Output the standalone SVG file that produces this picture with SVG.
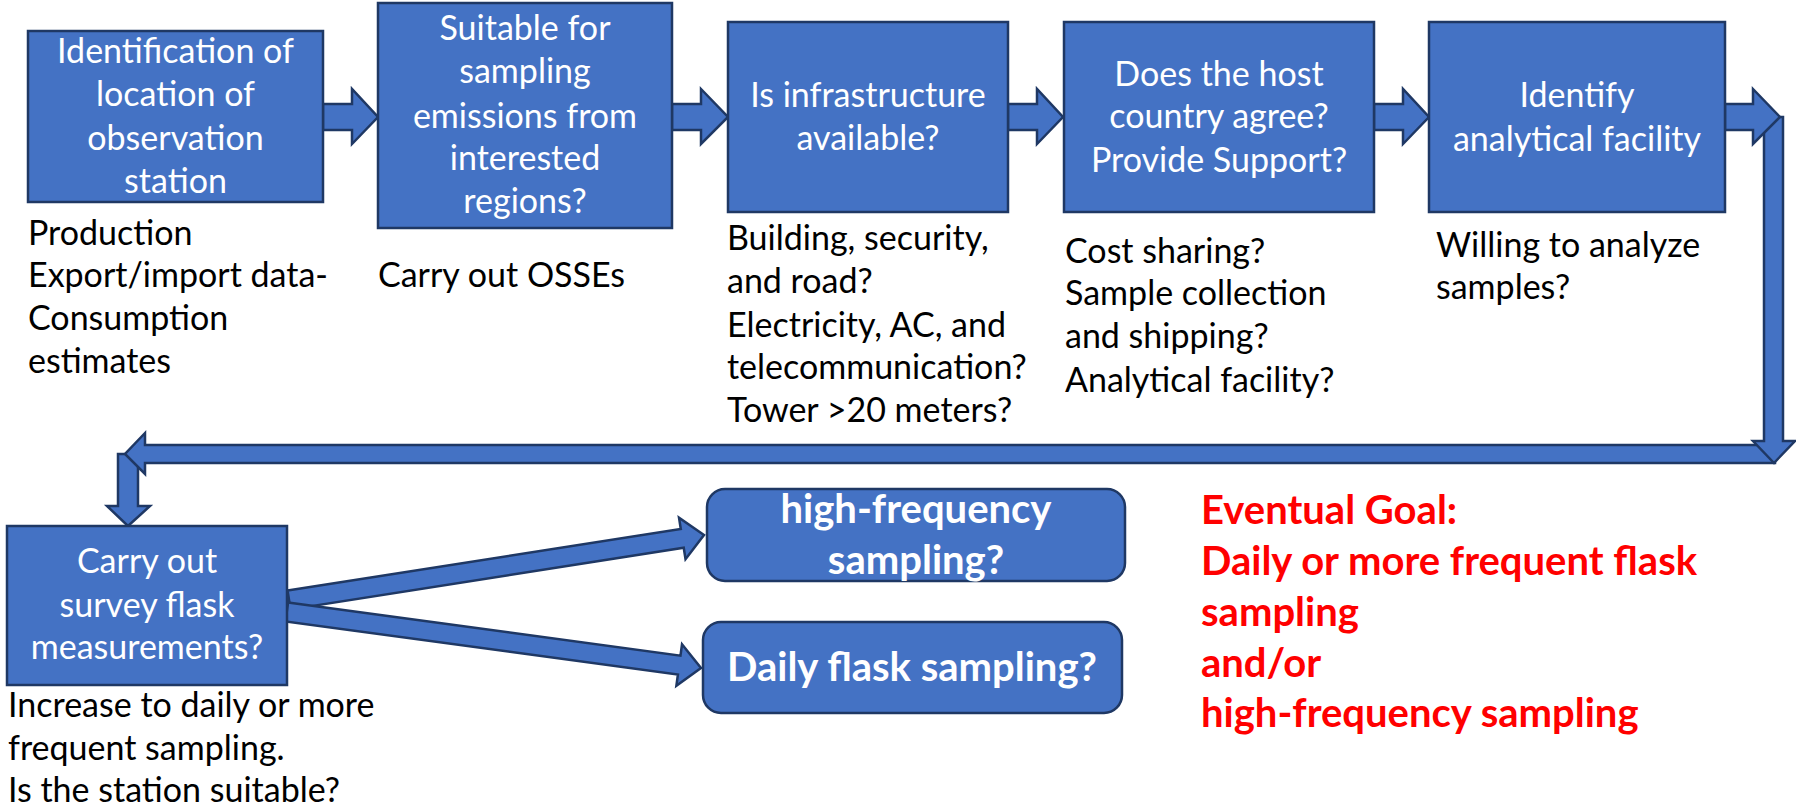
<svg xmlns="http://www.w3.org/2000/svg" width="1796" height="806" viewBox="0 0 1796 806">
<style>
.box{fill:#4472C4;stroke:#1F3864;stroke-width:2.5}
.arr{fill:#4472C4;stroke:#1F3864;stroke-width:2.5;stroke-linejoin:miter}
.bt{font-family:Lato,"Liberation Sans",sans-serif;font-size:34px;fill:#fff;text-anchor:middle}
.bb{font-family:Lato,"Liberation Sans",sans-serif;font-size:40px;font-weight:bold;fill:#fff;text-anchor:middle}
.nt{font-family:Lato,"Liberation Sans",sans-serif;font-size:34px;fill:#000}
.red{font-family:Lato,"Liberation Sans",sans-serif;font-size:40px;font-weight:bold;fill:#FF0000}
</style>
<rect width="1796" height="806" fill="#fff"/>
<g id="connectors">
<polygon class="arr" points="323,104 352,104 352,89 378,117 352,144 352,130 323,130"/>
<polygon class="arr" points="672,104 701,104 701,89 728,117 701,144 701,130 672,130"/>
<polygon class="arr" points="1008,104 1037,104 1037,89 1063,117 1037,144 1037,130 1008,130"/>
<polygon class="arr" points="1374,104 1403,104 1403,89 1429,117 1403,144 1403,130 1374,130"/>
<polygon class="arr" points="118,454 138,454 138,506 150,506 128,526 107,506 118,506"/>
<polygon class="arr" points="1775,445 145,445 145,433 125,454 145,474 145,463 1775,463"/>
<polygon class="arr" points="1764,117 1783,117 1783,441 1795,441 1774,463 1753,441 1764,441"/>
<polygon class="arr" points="1725,104 1753,104 1753,89 1780,117 1753,144 1753,130 1725,130"/>
<polygon class="arr" transform="translate(704,535) rotate(-8.9)" points="-420,-9.5 -22,-9.5 -22,-21 0,0 -22,21 -22,9.5 -420,9.5"/>
<polygon class="arr" transform="translate(701,668) rotate(7.7)" points="-418,-9.5 -22,-9.5 -22,-21 0,0 -22,21 -22,9.5 -418,9.5"/>
</g>
<g id="node1">
<rect class="box" x="28" y="31" width="295" height="171"/>
<text class="bt"><tspan x="175.5" y="63">Identification of</tspan><tspan x="175.5" y="106">location of</tspan><tspan x="175.5" y="150">observation</tspan><tspan x="175.5" y="193">station</tspan></text>
<text class="nt"><tspan x="28" y="245">Production</tspan><tspan x="28" y="287">Export/import data-</tspan><tspan x="28" y="330">Consumption</tspan><tspan x="28" y="373">estimates</tspan></text>
</g>
<g id="node2">
<rect class="box" x="378" y="3" width="294" height="225"/>
<text class="bt"><tspan x="525" y="40">Suitable for</tspan><tspan x="525" y="83">sampling</tspan><tspan x="525" y="128">emissions from</tspan><tspan x="525" y="170">interested</tspan><tspan x="525" y="213">regions?</tspan></text>
<text class="nt"><tspan x="378" y="287">Carry out OSSEs</tspan></text>
</g>
<g id="node3">
<rect class="box" x="728" y="22" width="280" height="190"/>
<text class="bt"><tspan x="868" y="107">Is infrastructure</tspan><tspan x="868" y="150">available?</tspan></text>
<text class="nt"><tspan x="727" y="250">Building, security,</tspan><tspan x="727" y="293">and road?</tspan><tspan x="727" y="337">Electricity, AC, and</tspan><tspan x="727" y="379">telecommunication?</tspan><tspan x="727" y="422">Tower &gt;20 meters?</tspan></text>
</g>
<g id="node4">
<rect class="box" x="1064" y="22" width="310" height="190"/>
<text class="bt"><tspan x="1219" y="86">Does the host</tspan><tspan x="1219" y="128">country agree?</tspan><tspan x="1219" y="172">Provide Support?</tspan></text>
<text class="nt"><tspan x="1065" y="263">Cost sharing?</tspan><tspan x="1065" y="305">Sample collection</tspan><tspan x="1065" y="348">and shipping?</tspan><tspan x="1065" y="392">Analytical facility?</tspan></text>
</g>
<g id="node5">
<rect class="box" x="1429" y="22" width="296" height="190"/>
<text class="bt"><tspan x="1577" y="107">Identify</tspan><tspan x="1577" y="151">analytical facility</tspan></text>
<text class="nt"><tspan x="1436" y="257">Willing to analyze</tspan><tspan x="1436" y="299">samples?</tspan></text>
</g>
<g id="node6">
<rect class="box" x="7" y="526" width="280" height="159"/>
<text class="bt"><tspan x="147" y="573">Carry out</tspan><tspan x="147" y="617">survey flask</tspan><tspan x="147" y="659">measurements?</tspan></text>
<text class="nt"><tspan x="8" y="717">Increase to daily or more</tspan><tspan x="8" y="760">frequent sampling.</tspan><tspan x="8" y="802">Is the station suitable?</tspan></text>
</g>
<g id="node7">
<rect class="box" x="707" y="489" width="418" height="92" rx="18"/>
<text class="bb"><tspan x="916" y="523">high-frequency</tspan><tspan x="916" y="574">sampling?</tspan></text>
</g>
<g id="node8">
<rect class="box" x="703" y="622" width="419" height="91" rx="18"/>
<text class="bb"><tspan x="912" y="681">Daily flask sampling?</tspan></text>
</g>
<g id="goal">
<text class="red"><tspan x="1201" y="524">Eventual Goal:</tspan><tspan x="1201" y="575">Daily or more frequent flask</tspan><tspan x="1201" y="626">sampling</tspan><tspan x="1201" y="677">and/or</tspan><tspan x="1201" y="727">high-frequency sampling</tspan></text>
</g>
</svg>
